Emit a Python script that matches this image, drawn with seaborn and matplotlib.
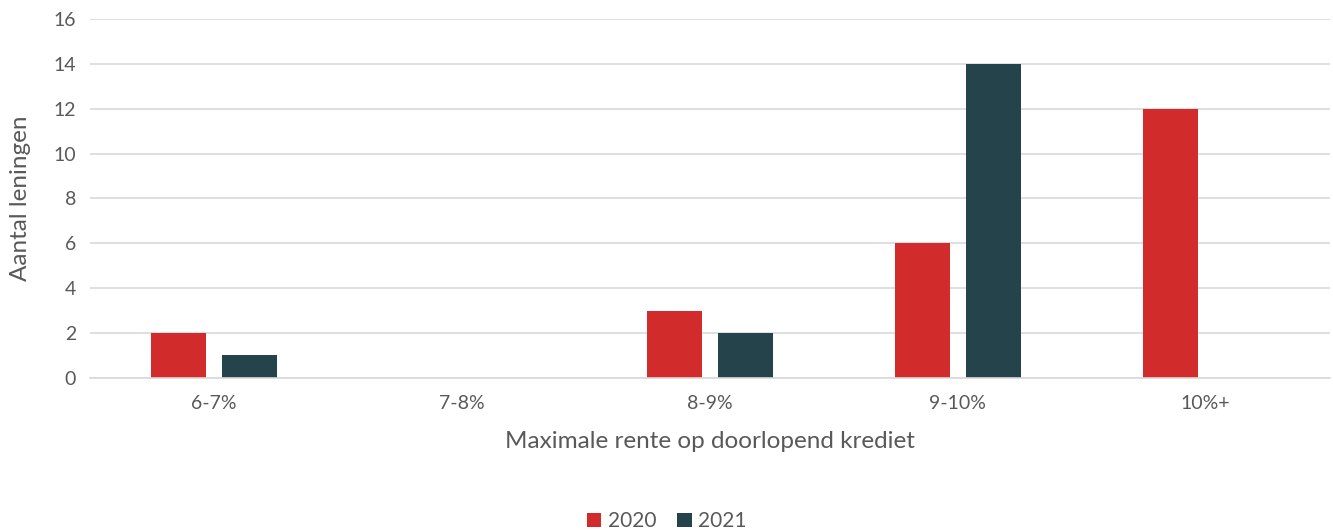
import pandas as pd
import matplotlib.pyplot as plt
import seaborn as sns

categories = ['6-7%', '7-8%', '8-9%', '9-10%', '10%+']
values_2020 = [2, 0, 3, 6, 12]
values_2021 = [1, 0, 2, 14, 0]
years = ['2020', '2021']
colors = ['#D12B2B', '#24434B']

df = pd.DataFrame({
    'cat': categories * 2,
    'year': [years[0]] * 5 + [years[1]] * 5,
    'n': values_2020 + values_2021,
})

sns.set_style('white')
plt.rcParams['font.family'] = ['Lato', 'DejaVu Sans']

fig = plt.figure(figsize=(13.33, 5.3), dpi=100)
ax = fig.add_axes([0.0675, 0.287, 0.93, 0.677])

sns.barplot(data=df, x='cat', y='n', hue='year', palette=colors, saturation=1,
            width=0.572, gap=0.225, linewidth=0, ax=ax, legend=True)

ax.set_ylim(0, 16)
ax.set_yticks(range(0, 17, 2))
ax.set_xlim(-0.5, 4.5)
ax.yaxis.grid(True, color='#D9D9D9', linewidth=1.2)
ax.set_axisbelow(True)
for s in ['top', 'right', 'left']:
    ax.spines[s].set_visible(False)
ax.spines['bottom'].set_color('#D9D9D9')
ax.spines['bottom'].set_linewidth(1.2)
ax.tick_params(axis='both', length=0, labelsize=14, colors='#595959', pad=10)
ax.tick_params(axis='x', pad=12)
ax.set_xlabel('Maximale rente op doorlopend krediet', fontsize=17.5, color='#595959', labelpad=14)
ax.set_ylabel('Aantal leningen', fontsize=17.5, color='#595959', labelpad=16)

h, l = ax.get_legend_handles_labels()
ax.legend_.remove()
fig.legend(h, l, loc='lower center', bbox_to_anchor=(0.5, -0.038), ncol=2, frameon=False,
           fontsize=15, labelcolor='#595959', handlelength=0.7, handleheight=0.7,
           handletextpad=0.3, columnspacing=1.0)

fig.savefig('out.png', dpi=100)
